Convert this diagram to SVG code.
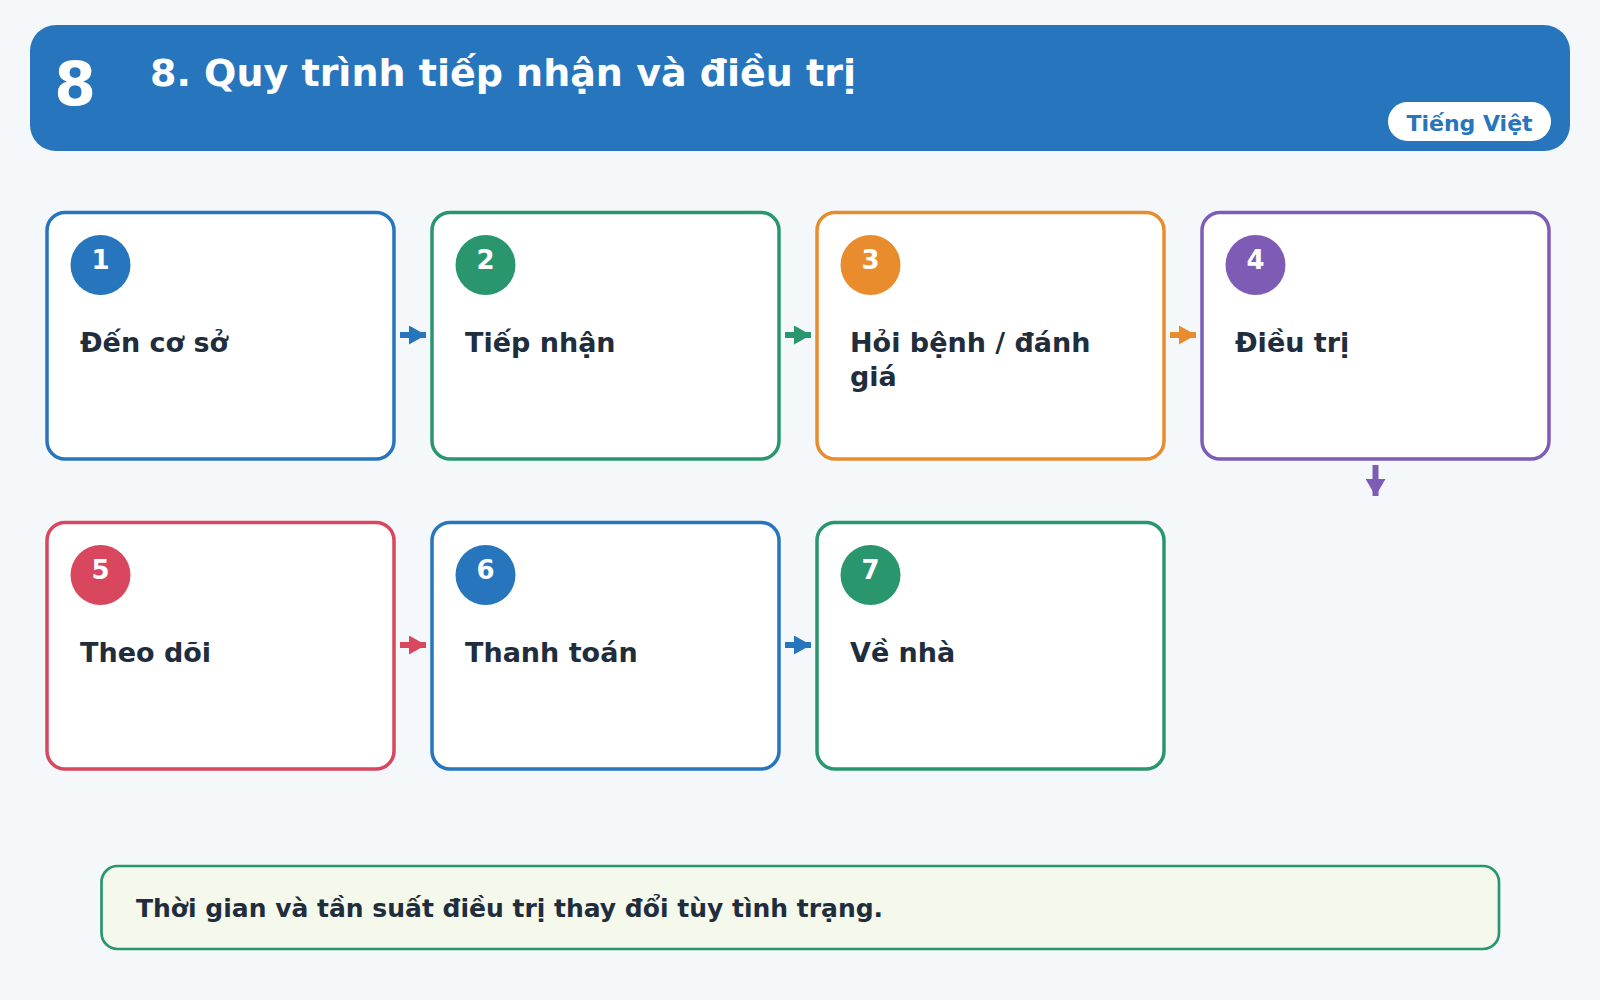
<svg xmlns="http://www.w3.org/2000/svg" width="1600" height="1000" viewBox="0 0 1600 1000">
<style>
  .bg{fill:#f4f8fb}
  .hdr{fill:#2675bd}
  .box{fill:#ffffff;stroke-width:3.5}
  .lbl{font-family:"DejaVu Sans","Liberation Sans",sans-serif;font-weight:bold;font-size:27px;fill:#1f2d3d}
  .num{font-family:"DejaVu Sans","Liberation Sans",sans-serif;font-weight:bold;font-size:26px;fill:#ffffff;text-anchor:middle}
  .conn{stroke-width:6;fill:none}
  .blue{stroke:#2675bd}.green{stroke:#2a966e}.orange{stroke:#e88c2e}.purple{stroke:#7e5cb6}.red{stroke:#d8475e}
</style>
<defs>
  <marker id="ah-blue" markerUnits="userSpaceOnUse" markerWidth="17" markerHeight="19" refX="17" refY="9.5" orient="auto"><path d="M0,0 L17,9.5 L0,19 z" fill="#2675bd"/></marker>
  <marker id="ah-green" markerUnits="userSpaceOnUse" markerWidth="17" markerHeight="19" refX="17" refY="9.5" orient="auto"><path d="M0,0 L17,9.5 L0,19 z" fill="#2a966e"/></marker>
  <marker id="ah-orange" markerUnits="userSpaceOnUse" markerWidth="17" markerHeight="19" refX="17" refY="9.5" orient="auto"><path d="M0,0 L17,9.5 L0,19 z" fill="#e88c2e"/></marker>
  <marker id="ah-purple" markerUnits="userSpaceOnUse" markerWidth="17" markerHeight="20" refX="17" refY="10" orient="auto"><path d="M0,0 L17,10 L0,20 z" fill="#7e5cb6"/></marker>
  <marker id="ah-red" markerUnits="userSpaceOnUse" markerWidth="17" markerHeight="19" refX="17" refY="9.5" orient="auto"><path d="M0,0 L17,9.5 L0,19 z" fill="#d8475e"/></marker>
</defs>
<rect class="bg" x="0" y="0" width="1600" height="1000"/>

<g id="header">
  <rect class="hdr" x="30" y="25" width="1540" height="126" rx="26"/>
  <text x="75" y="105" text-anchor="middle" font-family="DejaVu Sans, Liberation Sans, sans-serif" font-weight="bold" font-size="60" fill="#ffffff">8</text>
  <text x="150" y="86" font-family="DejaVu Sans, Liberation Sans, sans-serif" font-weight="bold" font-size="38" fill="#ffffff">8. Quy trình tiếp nhận và điều trị</text>
  <rect x="1388" y="102" width="163" height="39" rx="19.5" fill="#ffffff"/>
  <text x="1469.5" y="131" text-anchor="middle" font-family="DejaVu Sans, Liberation Sans, sans-serif" font-weight="bold" font-size="22" fill="#2675bd">Tiếng Việt</text>
</g>

<g id="connectors">
  <line class="conn blue" x1="400" y1="335" x2="426" y2="335" marker-end="url(#ah-blue)"/>
  <line class="conn green" x1="785" y1="335" x2="811" y2="335" marker-end="url(#ah-green)"/>
  <line class="conn orange" x1="1170" y1="335" x2="1196" y2="335" marker-end="url(#ah-orange)"/>
  <line class="conn purple" x1="1375.5" y1="465" x2="1375.5" y2="496" marker-end="url(#ah-purple)"/>
  <line class="conn red" x1="400" y1="645" x2="426" y2="645" marker-end="url(#ah-red)"/>
  <line class="conn blue" x1="785" y1="645" x2="811" y2="645" marker-end="url(#ah-blue)"/>
</g>

<g id="node1">
  <rect class="box blue" x="47" y="212.5" width="347" height="246.5" rx="18"/>
  <circle cx="100.5" cy="265" r="30" fill="#2675bd"/>
  <text class="num" x="100.5" y="269">1</text>
  <text class="lbl" x="80" y="351.5">Đến cơ sở</text>
</g>
<g id="node2">
  <rect class="box green" x="432" y="212.5" width="347" height="246.5" rx="18"/>
  <circle cx="485.5" cy="265" r="30" fill="#2a966e"/>
  <text class="num" x="485.5" y="269">2</text>
  <text class="lbl" x="465" y="351.5">Tiếp nhận</text>
</g>
<g id="node3">
  <rect class="box orange" x="817" y="212.5" width="347" height="246.5" rx="18"/>
  <circle cx="870.5" cy="265" r="30" fill="#e88c2e"/>
  <text class="num" x="870.5" y="269">3</text>
  <text class="lbl" x="850" y="351.5">Hỏi bệnh / đánh</text>
  <text class="lbl" x="850" y="385.5">giá</text>
</g>
<g id="node4">
  <rect class="box purple" x="1202" y="212.5" width="347" height="246.5" rx="18"/>
  <circle cx="1255.5" cy="265" r="30" fill="#7e5cb6"/>
  <text class="num" x="1255.5" y="269">4</text>
  <text class="lbl" x="1235" y="351.5">Điều trị</text>
</g>
<g id="node5">
  <rect class="box red" x="47" y="522.5" width="347" height="246.5" rx="18"/>
  <circle cx="100.5" cy="575" r="30" fill="#d8475e"/>
  <text class="num" x="100.5" y="579">5</text>
  <text class="lbl" x="80" y="661.5">Theo dõi</text>
</g>
<g id="node6">
  <rect class="box blue" x="432" y="522.5" width="347" height="246.5" rx="18"/>
  <circle cx="485.5" cy="575" r="30" fill="#2675bd"/>
  <text class="num" x="485.5" y="579">6</text>
  <text class="lbl" x="465" y="661.5">Thanh toán</text>
</g>
<g id="node7">
  <rect class="box green" x="817" y="522.5" width="347" height="246.5" rx="18"/>
  <circle cx="870.5" cy="575" r="30" fill="#2a966e"/>
  <text class="num" x="870.5" y="579">7</text>
  <text class="lbl" x="850" y="661.5">Về nhà</text>
</g>

<g id="note">
  <rect x="101.5" y="866" width="1397.5" height="83" rx="16" fill="#f4f9ec" stroke="#2a966e" stroke-width="2.7"/>
  <text x="136" y="917" font-family="DejaVu Sans, Liberation Sans, sans-serif" font-weight="bold" font-size="25" fill="#1f2d3d">Thời gian và tần suất điều trị thay đổi tùy tình trạng.</text>
</g>
</svg>
